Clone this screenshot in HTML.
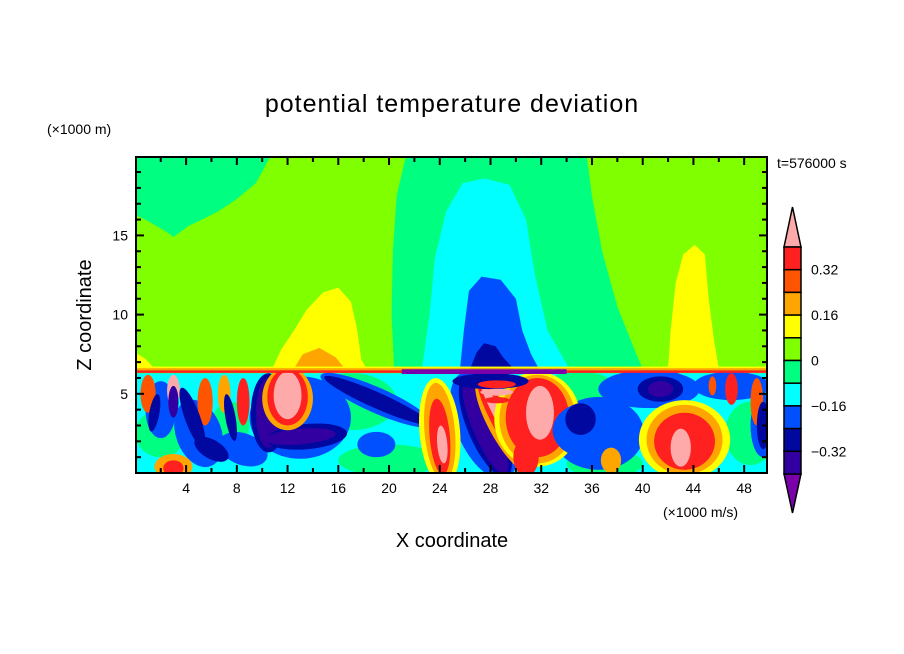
<!DOCTYPE html>
<html><head><meta charset="utf-8">
<style>
body{margin:0;background:#fff;}
svg{display:block;font-family:"Liberation Sans",sans-serif;}
</style></head>
<body>
<svg id="chart" width="904" height="654" viewBox="0 0 904 654">
<defs><clipPath id="pc"><rect x="136" y="157" width="631" height="316"/></clipPath></defs>
<text x="452" y="112" font-size="25" text-anchor="middle" letter-spacing="1">potential temperature deviation</text>
<text x="47" y="134" font-size="14">(×1000 m)</text>
<text x="777" y="168" font-size="14">t=576000 s</text>
<text x="91" y="315" font-size="20" text-anchor="middle" transform="rotate(-90 91 315)">Z coordinate</text>
<text x="452" y="547" font-size="20" text-anchor="middle">X coordinate</text>
<text x="663" y="517" font-size="14">(×1000 m/s)</text>
<g id="field" clip-path="url(#pc)"></g>
<g id="axes"></g>
<g id="cbar"></g>
</svg>
<script>
// ---- data ----
const levelColors = ["#7a00aa","#3200a0","#0008a0","#0050ff","#00ffff","#00ff80","#80ff00","#ffff00","#ffa500","#ff5500","#ff2020","#ffaaaa"];
const colorbarLabels = ["0.32","0.16","0","\u22120.16","\u22120.32"];
const colorbarLabelValues = [0.32,0.16,0,-0.16,-0.32];
const xTickLabels = [4,8,12,16,20,24,28,32,36,40,44,48];
const yTickLabels = [5,10,15];
// upper regions: [level, [[x,z],...]]
const regions = [
 [5, [[0,19.9],[0,16.3],[1,15.9],[2.5,15.2],[3,14.9],[4.2,15.6],[5,15.9],[6.5,16.5],[8,17.3],[9.5,18.3],[10.6,19.9]]],
 [5, [[20.4,6.6],[20.2,10],[20.3,14],[20.6,17.5],[21.3,19.9],[35.6,19.9],[36,17.5],[36.8,14],[38,10.5],[39.5,7.5],[40,6.6]]],
 [4, [[22.6,6.6],[23.2,10],[23.6,13.5],[24.5,16.5],[25.8,18.3],[27.5,18.6],[29.5,18.2],[30.8,16],[31.5,12.5],[32.5,9],[34.2,6.6]]],
 [3, [[25.6,6.6],[25.9,9],[26.3,11.5],[27.3,12.4],[28.8,12.2],[30,11],[30.5,9],[31.2,7.5],[31.8,6.6]]],
 [2, [[26.4,6.6],[26.9,7.6],[27.5,8.2],[28.4,8.0],[29,7.3],[29.8,6.6]]],
 [7, [[10.8,6.6],[11.5,7.8],[12.5,9],[13.5,10.3],[14.8,11.4],[16,11.7],[17,10.8],[17.5,9],[17.8,7.2],[18.2,6.6]]],
 [8, [[12.5,6.6],[13.2,7.5],[14.5,7.9],[15.8,7.3],[16.5,6.6]]],
 [7, [[42,6.6],[42.2,9],[42.6,12],[43.2,13.8],[44.1,14.4],[44.9,13.8],[45.2,11],[45.6,8.5],[46,6.6]]],
 [7, [[0,6.6],[0,7.6],[0.8,7.2],[1.5,6.6]]]
];
// lower blobs: [x, z, rx, rz, angleDeg, level]
const blobs = [
 [17,4.5,3.6,1.8,0,5],[20,0.8,4,1.0,0,5],[35,5.3,3,1.1,0,5],[48.5,2.5,2,2,0,5],[2,2.5,2,1.5,0,5],[37,0.6,3,0.9,0,5],[7.5,3,1.5,1.5,0,5],
 [5,2.5,1.8,2.2,-20,3],[2,4,1.2,1.8,0,3],[8.5,1.5,2,1,20,3],[13,3.5,4,2.6,0,3],[27.5,3,2.2,3.6,-23,3],
 [36.5,2.5,3.6,2.3,0,3],[40.5,5.3,4,1.2,0,3],[47,5.5,3,0.9,0,3],[49.5,3,1,2,0,3],[19,1.8,1.5,0.8,0,3],
 [1,5,0.6,1.2,0,9],[3,5.2,0.5,1,0,11],[5.5,4.5,0.6,1.5,0,9],[7,5,0.5,1.2,0,8],[8.5,4.5,0.5,1.5,0,10],[3,0.4,1.5,0.8,0,8],[3,0.3,0.8,0.5,0,10],
 [4.5,3.5,0.6,2,-20,2],[6,1.5,1.5,0.6,30,2],[3,4.5,0.4,1.0,0,1],[1.5,3.8,0.4,1.2,10,2],[7.5,3.5,0.4,1.5,-10,2],
 [10.5,3.8,1.4,2.5,0,2],[10.5,3.8,1.0,2.2,0,1],[13.5,2.3,3.2,0.8,-5,2],[13,2.3,2.8,0.5,-5,1],
 [12,4.7,2.0,2.0,0,8],[12,4.8,1.6,1.8,0,10],[12,4.9,1.1,1.5,0,11],
 [19,4.6,4.8,0.8,24,3],[19,4.6,4.5,0.5,24,2],
 [24,2.6,1.6,3.4,-5,7],[24,2.6,1.2,3.1,-5,8],[24,2.3,0.8,2.4,-5,10],[24.2,1.8,0.4,1.2,-5,11],
 [27.6,2.9,1.4,3.4,-23,2],[27.6,2.9,1.0,3.2,-23,1],
 [29.1,3.0,1.2,3.4,-29,8],[29.1,3.0,0.8,3.3,-29,10],[29.1,3.0,0.4,3.0,-29,11],
 [31.7,3.4,3.4,3.0,0,7],[31.7,3.4,3,2.8,0,8],[31.7,3.5,2.5,2.5,0,10],[31.9,3.8,1.1,1.7,0,11],[30.8,1,1,1.2,0,10],
 [35.9,2.7,3,1.8,0,3],[35.1,3.4,1.2,1.0,0,2],[37.5,0.8,0.8,0.8,0,8],
 [41.4,5.3,2.5,1.2,0,3],[41.4,5.3,1.8,0.8,0,2],[41.4,5.3,1,0.5,0,1],
 [43.3,2.1,3.6,2.5,0,7],[43.3,2.1,3,2.2,0,8],[43.3,2.0,2.4,1.8,0,10],[43,1.6,0.8,1.2,0,11],
 [47,5.3,0.5,1,0,10],[49,4.5,0.5,1.5,0,9],[45.5,5.5,0.3,0.6,0,9],[49.5,3.0,0.5,1.5,0,2],
 [28,5.8,3,0.5,0,2],[28.5,5.6,1.5,0.25,0,10],[28.5,5.1,1.3,0.22,0,11],[28.5,4.6,1.0,0.2,0,10]
];
// ---- axes functions ----
const X0=136,X1=767,Y0=157,Y1=473,XMIN=0.05,XMAX=49.8,ZMAX=19.95;
const sx=v=>X0+(v-XMIN)/(XMAX-XMIN)*(X1-X0);
const sy=v=>Y1-v/ZMAX*(Y1-Y0);
const NS="http://www.w3.org/2000/svg";
function mk(t,a,p){const e=document.createElementNS(NS,t);for(const k in a)e.setAttribute(k,a[k]);p.appendChild(e);return e;}
const field=document.getElementById('field');
let bg=mk('rect',{x:X0,y:Y0,width:X1-X0,height:Y1-Y0,fill:levelColors[6]},field);


regions.forEach((r,i)=>{
 const p=mk('polygon',{points:r[1].map(q=>sx(q[0])+','+sy(q[1])).join(' '),fill:levelColors[r[0]]},field);
 
 
});
let low=mk('rect',{x:X0,y:sy(6.3),width:X1-X0,height:Y1-sy(6.3),fill:levelColors[4]},field);


blobs.forEach(b=>{
 const cx=sx(b[0]),cy=sy(b[1]);
 const e=mk('ellipse',{cx:cx,cy:cy,rx:sx(b[0]+b[2])-cx,ry:cy-sy(b[1]+b[3]),fill:levelColors[b[5]],transform:`rotate(${b[4]} ${cx} ${cy})`},field);
 
 
});
// inversion band
[[0,50,6.62,6.48,8],[0,50,6.48,6.32,10],[0,50,6.72,6.62,7],[21,34,6.55,6.25,0]].forEach(s=>{
 const r=mk('rect',{x:sx(s[0]),y:sy(s[2]),width:sx(s[1])-sx(s[0]),height:sy(s[3])-sy(s[2]),fill:levelColors[s[4]]},field);
 
 
});
// axes
const ax=document.getElementById('axes');
const frame=mk('rect',{x:X0,y:Y0,width:X1-X0,height:Y1-Y0,fill:'none',stroke:'#000','stroke-width':2},ax);


for(let v=2;v<=48;v+=2){
 const x=sx(v),L=(v%4===0)?8:5;
 mk('line',{x1:x,y1:Y1,x2:x,y2:Y1-L,stroke:'#000','stroke-width':2},ax);
 mk('line',{x1:x,y1:Y0,x2:x,y2:Y0+L,stroke:'#000','stroke-width':2},ax);
}
xTickLabels.forEach(v=>{
 const t=mk('text',{x:sx(v),y:Y1+20,'font-size':14,'text-anchor':'middle'},ax);t.textContent=v;
 
 
});
for(let v=1;v<=19;v++){
 const y=sy(v),L=(v%5===0)?8:5;
 mk('line',{x1:X0,y1:y,x2:X0+L,y2:y,stroke:'#000','stroke-width':2},ax);
 mk('line',{x1:X1,y1:y,x2:X1-L,y2:y,stroke:'#000','stroke-width':2},ax);
}
yTickLabels.forEach(v=>{
 const t=mk('text',{x:X0-8,y:sy(v)+5,'font-size':14,'text-anchor':'end'},ax);t.textContent=v;
 
 
});
// colorbar
const cb=document.getElementById('cbar');
const CX0=784,CX1=801,CT=247,CB=474,n=10,bh=(CB-CT)/n;
const cv=v=>CT+(0.40-v)/0.08*bh;
const tt=mk('polygon',{points:`${CX0},${CT} ${(CX0+CX1)/2},207 ${CX1},${CT}`,fill:levelColors[11],stroke:'#000','stroke-width':1.5},cb);


const tb=mk('polygon',{points:`${CX0},${CB} ${(CX0+CX1)/2},513 ${CX1},${CB}`,fill:levelColors[0],stroke:'#000','stroke-width':1.5},cb);


for(let i=0;i<n;i++){
 const r=mk('rect',{x:CX0,y:CT+i*bh,width:CX1-CX0,height:bh,fill:levelColors[10-i],stroke:'#000','stroke-width':1.5},cb);
 
 
}
colorbarLabels.forEach((s,i)=>{
 const t=mk('text',{x:811,y:cv(colorbarLabelValues[i])+5,'font-size':14},cb);t.textContent=s;
 
 
});
</script>
</body></html>
